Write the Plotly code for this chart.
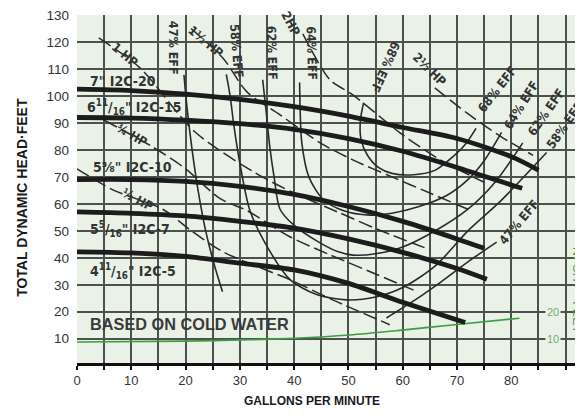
import plotly.graph_objects as go

# ---------------- data ----------------
# head-capacity curves per impeller
gpm_a = [0, 10, 20, 30, 40, 50, 60, 70, 80, 85]
head_a = [102.5, 102, 100.7, 98.7, 96, 92.5, 88.3, 84.2, 77.5, 72.5]
gpm_b = [0, 10, 20, 30, 40, 50, 60, 70, 80, 82]
head_b = [92, 91.8, 91, 89.7, 87.6, 84.2, 79.5, 73.5, 67, 65.8]
gpm_c = [0, 10, 20, 30, 40, 50, 60, 70, 75]
head_c = [69, 69, 68.3, 66.5, 63.5, 59, 53.5, 47, 43.5]
gpm_d = [0, 10, 20, 30, 40, 50, 60, 70, 75.5]
head_d = [57, 56.5, 55.5, 53.5, 51, 47, 42, 36, 32]
gpm_e = [0, 10, 20, 30, 40, 50, 60, 71.5]
head_e = [42.2, 41.8, 40.5, 38, 35.5, 30.5, 23.5, 16]

# NPSH required
gpm_npsh = [0, 20, 31.8, 40, 50.2, 59.4, 68.6, 81.5]
npsh = [8.8, 9.1, 9.6, 10.2, 11.4, 13.1, 15, 17.6]

# iso-efficiency curves
eff47_l_x = [19.7, 20.3, 21.2, 22.3, 23.7, 25.2, 26.8]
eff47_l_y = [107.8, 95, 80, 65, 50, 38, 27.4]
eff47_r_x = [57, 62, 67, 72, 77.3]
eff47_r_y = [17.7, 24, 31, 38.5, 45.8]
eff58_x = [27.5, 28.2, 28.9, 30, 31.8, 34.5, 39.2, 44, 49.7, 55, 60, 66, 72, 78, 86.5]
eff58_y = [108, 100, 89, 75, 57.8, 46, 32, 26.5, 24.4, 25.5, 29, 37, 50, 61, 79]
eff62_x = [34.2, 34.8, 35.5, 36.3, 37.4, 40, 44.7, 48, 50.8, 55, 60, 66, 72, 77, 82.1]
eff62_y = [106, 95, 81.3, 70, 58, 52, 45.6, 42.3, 41, 41.5, 44, 50, 58, 68, 82.6]
eff64_x = [41, 41.1, 41.4, 42.7, 45.3, 49, 53.9, 58, 63, 68, 72, 75, 78.2]
eff64_y = [105, 95, 82.7, 70, 61.7, 57.5, 55.8, 56.5, 59, 63, 69, 76, 86.5]
eff68_x = [52.8, 52.2, 52.3, 53.5, 55.5, 58, 62, 66, 69.2, 71.5, 73.5]
eff68_y = [97.5, 91, 84, 78, 73.5, 71.3, 70.8, 72.5, 77.4, 82, 88]

# horsepower lines
hp050_x = [0, 6.6, 15.8, 20.8, 26.9, 39.2, 47.1, 57.6]
hp050_y = [73, 65.2, 58, 50.4, 42.2, 31.9, 24.4, 15.2]
hp075_x = [5, 14, 20, 26.3, 31.3, 39.2, 46.6, 55, 62]
hp075_y = [91, 81, 73, 62, 57.5, 47.8, 41.1, 34, 28]
hp100_x = [4, 11.6, 21.7, 32.8, 40, 48, 56, 65]
hp100_y = [121.5, 110.4, 86.7, 71.5, 64, 57, 50, 43]
hp150_x = [21, 26.9, 31.3, 37.4, 44.8, 50.8, 58, 65, 72]
hp150_y = [125, 114, 101.5, 93, 82.6, 76.3, 70, 64, 58]
hp200_x = [41.6, 46.6, 50.8, 59.5, 63.2, 68, 75]
hp200_y = [123, 106, 100.4, 86.3, 81.1, 75, 68]
hp250_x = [65.9, 71.8, 78, 84]
hp250_y = [103, 93.7, 85, 78]

# axes
x_tickvals = [0, 10, 20, 30, 40, 50, 60, 70, 80]
x_ticktext = ["0", "10", "20", "30", "40", "50", "60", "70", "80"]
y_tickvals = [10, 20, 30, 40, 50, 60, 70, 80, 90, 100, 110, 120, 130]
npsh_ticks = [10, 20]

# labels
impeller_labels = ["7\" I2C-20", "6<sup>11</sup>/<sub>16</sub>\" I2C-15", "5⅝\" I2C-10",
                   "5<sup>5</sup>/<sub>16</sub>\" I2C-7", "4<sup>11</sup>/<sub>16</sub>\" I2C-5"]
impeller_label_pos = [(2, 105.5), (1.5, 96), (2.5, 73.5), (2, 50.5), (2, 35)]

# ---------------- figure ----------------
fig = go.Figure()
INK = "#1c1c1c"
THIN = "#2a2a2a"
NARROW = "Liberation Sans Narrow, DejaVu Sans Condensed, Liberation Sans"

def line(x, y, width, color=THIN, dash=None, shape="spline"):
    fig.add_trace(go.Scatter(x=x, y=y, mode="lines", hoverinfo="skip",
                             line=dict(color=color, width=width, dash=dash, shape=shape, smoothing=0.8),
                             showlegend=False))

for xs, ys in [(eff47_l_x, eff47_l_y), (eff47_r_x, eff47_r_y), (eff58_x, eff58_y),
               (eff62_x, eff62_y), (eff64_x, eff64_y), (eff68_x, eff68_y)]:
    line(xs, ys, 1.6)
for xs, ys in [(hp050_x, hp050_y), (hp075_x, hp075_y), (hp100_x, hp100_y),
               (hp150_x, hp150_y), (hp200_x, hp200_y), (hp250_x, hp250_y)]:
    line(xs, ys, 1.5, dash="14px,5px")
line(gpm_npsh, npsh, 1.6, color="#3f9a45")
for xs, ys in [(gpm_a, head_a), (gpm_b, head_b), (gpm_c, head_c), (gpm_d, head_d), (gpm_e, head_e)]:
    line(xs, ys, 4.8, color=INK)

ann = []
for txt, (x, y) in zip(impeller_labels, impeller_label_pos):
    ann.append(dict(x=x, y=y, text="<b>" + txt + "</b>", showarrow=False, xanchor="left", yanchor="middle",
                    font=dict(family=NARROW, size=14, color="#333333")))

def tlabel(txt, x, y, angle, size=12.5):
    ann.append(dict(x=x, y=y, text="<b>" + txt + "</b>", showarrow=False, textangle=angle,
                    xanchor="center", yanchor="middle",
                    font=dict(family=NARROW, size=size, color="#333333")))

tlabel("47% EFF", 17.7, 117.8, 90)
tlabel("58% EFF", 29.4, 116.8, 85)
tlabel("62% EFF", 35.9, 116, 88)
tlabel("64% EFF", 43.2, 116, 88)
tlabel("2HP", 39.4, 126.8, 62)
tlabel("68% EFF", 56.9, 110.7, 114)
tlabel("68% EFF", 77.3, 102.5, -52)
tlabel("64% EFF", 81.7, 96.6, -58)
tlabel("62% EFF", 86.3, 94, -55)
tlabel("58% EFF", 89.8, 89, -55)
tlabel("47% EFF", 81.5, 53.3, -50)
tlabel("1 HP", 8.8, 115.2, 40)
tlabel("1½ HP", 23.7, 120, 40)
tlabel("2½ HP", 65, 109.8, 45)
tlabel("¾ HP", 10, 85.6, 30)
tlabel("½ HP", 11.2, 61.5, 28)

ann.append(dict(x=2, y=15.5, text="<b>BASED ON COLD WATER</b>", showarrow=False, xanchor="left", yanchor="middle",
                font=dict(family="Liberation Sans", size=16.3, color="#3a3a3a")))

for v in npsh_ticks:
    ann.append(dict(x=87.6, y=v, text=str(v), showarrow=False, xanchor="center", yanchor="middle",
                    font=dict(family="Liberation Sans", size=11, color="#6fae6f"),
                    bgcolor="#eaf2e8"))
ann.append(dict(xref="paper", yref="paper", x=0.988, y=0.21, text="NPSH — FEET", showarrow=False,
                textangle=90, xanchor="center", yanchor="middle",
                font=dict(family="Liberation Sans", size=12.5, color="#4aa24f")))

ann.append(dict(xref="paper", yref="paper", x=-0.109, y=0.477, text="<b>TOTAL DYNAMIC HEAD·FEET</b>",
                showarrow=False, textangle=-90, xanchor="center", yanchor="middle",
                font=dict(family="Liberation Sans", size=14, color="#1a1a1a")))
ann.append(dict(xref="paper", yref="paper", x=0.464, y=-0.109, text="<b>GALLONS PER MINUTE</b>",
                showarrow=False, xanchor="center", yanchor="middle",
                font=dict(family="Liberation Sans", size=12, color="#1a1a1a")))

# the page body has an 8px margin, so the figure is sized/offset to put the plot where the reference has it
fig.update_layout(
    width=575, height=409,
    margin=dict(l=69, r=0, t=7, b=54, autoexpand=False),
    paper_bgcolor="white", plot_bgcolor="#eaf2e8",
    annotations=ann,
    showlegend=False,
)
GRID = "#4b524b"
fig.update_xaxes(range=[0, 93.2], tickvals=x_tickvals, ticktext=x_ticktext,
                 showgrid=True, gridcolor=GRID, gridwidth=1.5, zeroline=False,
                 showline=True, linecolor="#111111", linewidth=2.5,
                 ticks="outside", ticklen=4, tickcolor="#111111", tickwidth=1.5,
                 minor=dict(dtick=5, tick0=0, showgrid=True, gridcolor=GRID, gridwidth=1.5,
                            ticks="outside", ticklen=4, tickcolor="#111111", tickwidth=1.5),
                 automargin=False, ticklabeloverflow="allow",
                 tickfont=dict(family="Liberation Sans", size=13, color="#333333"))
fig.update_yaxes(range=[1, 130], tickvals=y_tickvals, showgrid=True, gridcolor=GRID, gridwidth=1.5,
                 zeroline=False, showline=False, ticks="", ticklabelstandoff=7, automargin=False,
                 ticklabeloverflow="allow",
                 tickfont=dict(family="Liberation Sans", size=13.5, color="#333333"))

fig.write_html("out.html")
